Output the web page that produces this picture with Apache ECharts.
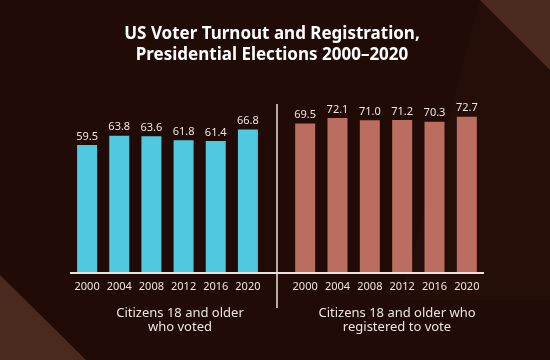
<!DOCTYPE html>
<html><head><meta charset="utf-8">
<script src="https://cdn.jsdelivr.net/npm/echarts@6/dist/echarts.min.js"></script>
<style>html,body{margin:0;padding:0;background:#210b06;}#c{width:550px;height:360px;}</style>
</head><body><div id="c"></div>
<script>
const years = ['2000','2004','2008','2012','2016','2020'];
const voted = [59.5, 63.8, 63.6, 61.8, 61.4, 66.8];
const registered = [69.5, 72.1, 71.0, 71.2, 70.3, 72.7];
const titleText = 'US Voter Turnout and Registration,\nPresidential Elections 2000–2020';
const leftName = 'Citizens 18 and older\nwho voted';
const rightName = 'Citizens 18 and older who\nregistered to vote';

const FONT = 'Noto Sans';
const TXT = '#ece4e0';
const chart = echarts.init(document.getElementById('c'), null, {renderer:'canvas'});
const baseY = 273;
function xAx(gi){
  return {type:'category', gridIndex:gi, data:years,
    axisLine:{show:true, lineStyle:{color:'#e9e2de', width:2}},
    axisTick:{show:false},
    axisLabel:{color:TXT, fontFamily:FONT, fontSize:11, margin:8, interval:0}};
}
function yAx(gi){
  return {type:'value', gridIndex:gi, min:0, max:80, show:false, splitLine:{show:false}};
}
function ser(gi, data, color){
  return {type:'bar', xAxisIndex:gi, yAxisIndex:gi, data:data, barWidth:20,
    itemStyle:{color:color},
    label:{show:true, position:'top', distance:3, color:TXT, fontFamily:FONT, fontSize:11,
      formatter:p=>p.value.toFixed(1)}};
}
chart.setOption({
  backgroundColor:'#210b06',
  animation:false,
  graphic:[
    {type:'polygon', z:-11, shape:{points:[[480,0],[550,70],[550,300],[400,300]]}, style:{fill:'#250e08'}},
    {type:'polygon', z:-10, shape:{points:[[0,275],[0,360],[86,360]]}, style:{fill:'#4a2a1e'}},
    {type:'polygon', z:-10, shape:{points:[[480,0],[550,0],[550,70]]}, style:{fill:'#4a2a1e'}},
    {type:'line', z:5, shape:{x1:70, y1:baseY, x2:484, y2:baseY}, style:{stroke:'#e9e2de', lineWidth:2}},
    {type:'line', z:5, shape:{x1:277, y1:104, x2:277, y2:308}, style:{stroke:'#e9e2de', lineWidth:1.5}}
  ],
  title:[
    {text:titleText, left:267, top:19, textAlign:'center',
      textStyle:{color:'#ffffff', fontFamily:FONT, fontWeight:'bold', fontSize:17, lineHeight:21}},
    {text:leftName, left:175, top:301, textAlign:'center',
      textStyle:{color:TXT, fontFamily:FONT, fontWeight:'normal', fontSize:13, lineHeight:14}},
    {text:rightName, left:392, top:301, textAlign:'center',
      textStyle:{color:TXT, fontFamily:FONT, fontWeight:'normal', fontSize:13, lineHeight:14}}
  ],
  grid:[
    {left:71, right:286, top:101, bottom:360-baseY},
    {left:289, right:67, top:101, bottom:360-baseY}
  ],
  xAxis:[xAx(0), xAx(1)],
  yAxis:[yAx(0), yAx(1)],
  series:[ser(0, voted, '#4fc8e0'), ser(1, registered, '#bb6d60')]
});
</script></body></html>
